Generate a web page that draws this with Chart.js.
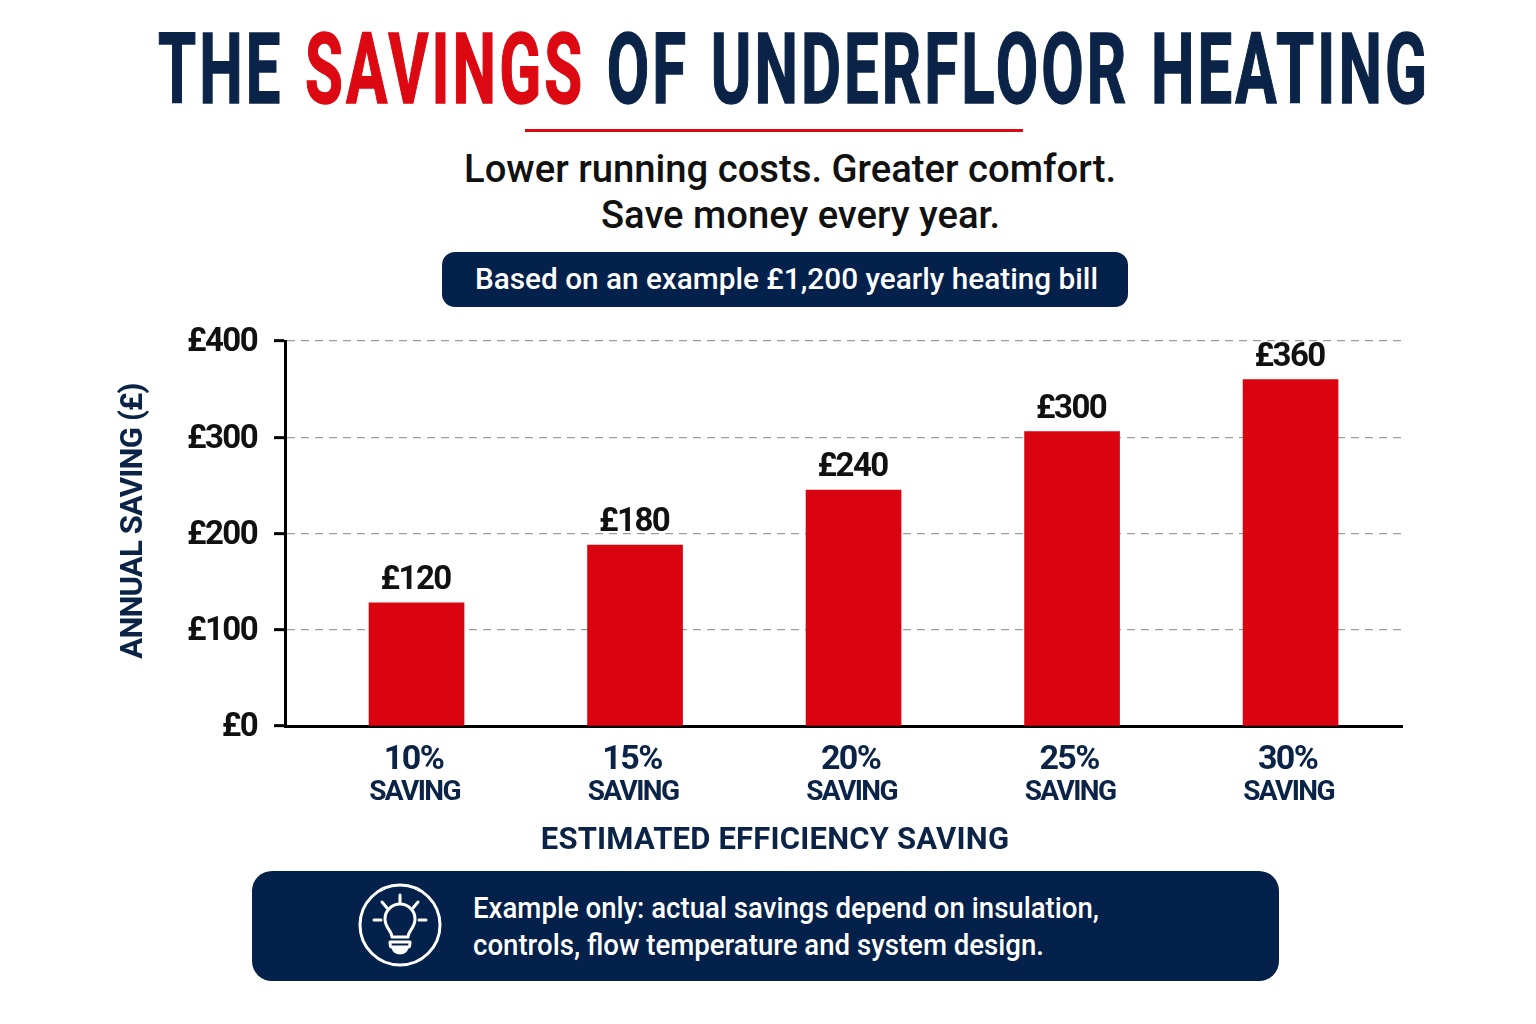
<!DOCTYPE html>
<html>
<head>
<meta charset="utf-8">
<title>The Savings of Underfloor Heating</title>
<script src="https://cdn.jsdelivr.net/npm/chart.js@4"></script>
<style>
    html, body { margin: 0; background: #fff; }
    #page { position: relative; width: 1536px; height: 1024px; overflow: hidden; font-family: Roboto, sans-serif; }
    #chart { position: absolute; left: 0; top: 0; }
    .line { position: absolute; white-space: nowrap; transform-origin: left center; line-height: 1; }
    .box { position: absolute; background: #03214a; }
    #title { font-weight: 700; font-size: 99px; letter-spacing: 5px; word-spacing: 5px; color: #0a2347; -webkit-text-stroke: 1.5px currentColor; }
    #title span { color: #dc0812; }
    #rule { position: absolute; left: 525px; top: 129px; width: 498px; height: 3px; background: #dc0812; }
    .sub { font-size: 39px; font-weight: 500; color: #111; }
    .note { font-size: 30px; font-weight: 500; color: #fff; }
    #bulb { position: absolute; left: 355px; top: 880px; }
</style>
</head>
<body>
<div id="page">
    <div class="line" id="title" data-x="158" data-w="1272" style="top:20px">THE <span>SAVINGS</span> OF UNDERFLOOR HEATING</div>
    <div id="rule"></div>
    <div class="line sub" data-x="464" data-w="652" style="top:150px">Lower running costs. Greater comfort.</div>
    <div class="line sub" data-x="601" data-w="399" style="top:196px">Save money every year.</div>
    <div class="box" style="left:442px;top:252px;width:686px;height:55px;border-radius:13px"></div>
    <div class="line note" data-x="475" data-w="623" style="top:264px">Based on an example £1,200 yearly heating bill</div>

    <canvas id="chart" width="1536" height="1024"></canvas>

    <div class="box" style="left:252px;top:871px;width:1027px;height:110px;border-radius:20px"></div>
    <svg id="bulb" width="90" height="90" viewBox="0 0 90 90" fill="none" stroke="#fff" stroke-width="3" stroke-linecap="round" stroke-linejoin="round">
        <circle cx="45" cy="45" r="40"/>
        <path d="M45 15v8M27 22l5 6M63 22l-5 6M19 40h7M64 40h7"/>
        <path d="M37 57c0-6-7-9-7-18a15 15 0 0 1 30 0c0 9-7 12-7 18z"/>
        <path d="M35 62h20M35 62c0 2 0 4 1 5h18c1-1 1-3 1-5"/>
        <path d="M38 68c1 4 4 5 7 5s6-1 7-5z" fill="#fff"/>
    </svg>
    <div class="line note" data-x="473" data-w="626" style="top:893px">Example only: actual savings depend on insulation,</div>
    <div class="line note" data-x="473" data-w="571" style="top:930px">controls, flow temperature and system design.</div>
</div>

<script>
// Chart data
const savingRates = [10, 15, 20, 25, 30];
// Bars in the reference are drawn a little taller than their printed labels
const barHeights = [128, 188, 245, 306, 360];
const barLabels = ['£120', '£180', '£240', '£300', '£360'];
const yTicks = [0, 100, 200, 300, 400];
const yAxisTitle = 'ANNUAL SAVING (£)';
const xAxisTitle = 'ESTIMATED EFFICIENCY SAVING';
const savingWord = 'SAVING';

const NAVY = '#0a2347';
const INK = '#111';
const FONT = 'Roboto, sans-serif';

// Squeeze each text line to the width it has in the reference
document.querySelectorAll('.line').forEach(el => {
    el.style.left = el.dataset.x + 'px';
    const width = el.getBoundingClientRect().width;
    el.style.transform = `scaleX(${el.dataset.w / width})`;
});

// Bar value labels and the two off-centre axis captions
const captionPlugin = {
    id: 'captions',
    beforeDraw(chart) {
        // tightens the tick labels too, Roboto is wider than the reference font
        chart.ctx.letterSpacing = '-1.6px';
    },
    afterDatasetsDraw(chart) {
        const ctx = chart.ctx;
        ctx.save();
        ctx.textAlign = 'center';
        ctx.textBaseline = 'middle';

        ctx.fillStyle = INK;
        ctx.font = `700 33px ${FONT}`;
        chart.getDatasetMeta(0).data.forEach((bar, i) => {
            ctx.fillText(barLabels[i], bar.x - 1, bar.y - 22);
        });

        ctx.fillStyle = NAVY;
        ctx.font = `700 31px ${FONT}`;
        ctx.letterSpacing = '0.2px';
        ctx.fillText(xAxisTitle, 775, 841);

        ctx.letterSpacing = '-0.8px';
        ctx.translate(134, 521);
        ctx.rotate(-Math.PI / 2);
        ctx.fillText(yAxisTitle, 0, 0);
        ctx.restore();
    }
};

// Linear x axis so the first bar can sit away from the y axis, as in the reference
const onlyRates = scale => {
    scale.ticks = savingRates.map(value => ({ value }));
};
const xLimits = { min: 6.99, max: 32.55, offset: false };

new Chart(document.getElementById('chart'), {
    type: 'bar',
    data: {
        datasets: [{
            data: savingRates.map((rate, i) => ({ x: rate, y: barHeights[i] })),
            backgroundColor: '#d9040f',
            barThickness: 95
        }]
    },
    options: {
        responsive: false,
        animation: false,
        layout: { padding: { left: 100, right: 134, top: 341, bottom: 208 } },
        plugins: { legend: { display: false }, tooltip: { enabled: false } },
        scales: {
            x: {
                type: 'linear',
                ...xLimits,
                afterBuildTicks: onlyRates,
                afterFit: scale => { scale.height = 50; },
                grid: { display: false, drawTicks: false, offset: false },
                border: { color: '#000', width: 3 },
                ticks: {
                    maxRotation: 0,
                    autoSkip: false,
                    padding: 14,
                    labelOffset: -3,
                    color: NAVY,
                    font: { family: FONT, size: 34, weight: '700' },
                    callback: value => `${value}%`
                }
            },
            x2: {
                type: 'linear',
                position: 'bottom',
                ...xLimits,
                afterBuildTicks: onlyRates,
                afterFit: scale => { scale.height = 40; },
                grid: { display: false, drawTicks: false, offset: false },
                border: { display: false },
                ticks: {
                    maxRotation: 0,
                    autoSkip: false,
                    padding: 0,
                    labelOffset: -2,
                    color: NAVY,
                    font: { family: FONT, size: 28, weight: '700' },
                    callback: () => savingWord
                }
            },
            y: {
                min: 0,
                max: 400,
                afterBuildTicks: scale => { scale.ticks = yTicks.map(value => ({ value })); },
                afterFit: scale => { scale.width = 185; },
                border: { color: '#000', width: 3, dash: [8, 6] },
                grid: {
                    color: '#9c9c9c',
                    lineWidth: 1.3,
                    tickColor: '#000',
                    tickWidth: 3,
                    tickLength: 11,
                    tickBorderDash: []
                },
                ticks: {
                    padding: 17,
                    labelOffset: 2,
                    color: INK,
                    font: { family: FONT, size: 33, weight: '700' },
                    callback: value => `£${value}`
                }
            }
        }
    },
    plugins: [captionPlugin]
});
</script>
</body>
</html>
